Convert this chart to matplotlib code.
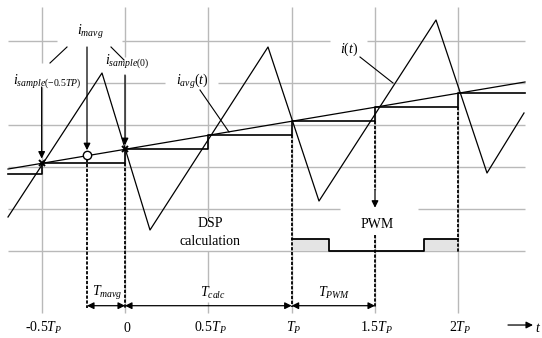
import numpy as np
import matplotlib
matplotlib.use("Agg")
import matplotlib.pyplot as plt

# ---------------- data (time in units of T_P, current in grid units) -------------
wave_time = [-0.702, -0.138, 0.150, 0.858, 1.164, 1.866, 2.172, 2.394]
wave_value = [0.81, 4.238, 0.50, 4.857, 1.19, 5.50, 1.857, 3.286]

avg_time = [-0.702, 2.40]
avg_value = [1.952, 4.024]

stair_time = [-0.702, -0.5, 0.0, 0.5, 1.0, 1.5, 2.0, 2.40]
stair_value = [1.83, 2.095, 2.43, 2.76, 3.095, 3.43, 3.76, 3.76]

sample_mark_time = [-0.5, 0.0]
sample_mark_value = [2.095, 2.43]
mavg_time = [-0.228]
mavg_value = [2.286]

pwm_time = [1.0, 1.224, 1.224, 1.794, 1.794, 2.0]
pwm_level = [0.286, 0.286, 0.0, 0.0, 0.286, 0.286]

tick_pos = [-0.5, 0.0, 0.5, 1.0, 1.5, 2.0]
tick_labels = ["-0.5$T_P$", "0", "0.5$T_P$", "$T_P$", "1.5$T_P$", "2$T_P$"]

# ---------------- style ----------------
plt.rcParams["font.family"] = ["Liberation Serif", "DejaVu Serif"]
plt.rcParams["mathtext.fontset"] = "custom"
plt.rcParams["mathtext.rm"] = "Liberation Serif"
plt.rcParams["mathtext.it"] = "Liberation Serif:italic"
plt.rcParams["mathtext.bf"] = "Liberation Serif:bold"

FS = 10
GRID = "#b9b9b9"
fig = plt.figure(figsize=(5.42, 3.38), dpi=100)
ax = fig.add_axes([0, 0, 1, 1])
ax.axis("off")
ax.set_xlim(-0.75, 2.502)
ax.set_ylim(-2.071, 5.976)

# ---------------- grid with gaps ----------------
hsegs = {5: [(-0.702, -0.408), (-0.018, 1.23), (1.452, 2.40)],
         4: [(-0.228, 0.24), (0.558, 2.40)],
         3: [(-0.702, 2.40)],
         2: [(-0.702, 2.40)],
         1: [(-0.702, 1.29), (1.758, 2.40)],
         0: [(-0.702, 2.40)]}
for lev, segs in hsegs.items():
    for a, b in segs:
        ax.plot([a, b], [lev, lev], color=GRID, lw=1.0, zorder=1, solid_capstyle="butt")

vsegs = {-0.5: [(5.81, 4.476), (3.905, -1.476)],
         0.0: [(5.81, 4.62), (4.19, -1.476)],
         0.5: [(5.81, 0.81), (0.0, -0.83), (-1.22, -1.476)],
         1.0: [(5.81, -1.476)],
         1.5: [(5.81, 1.45), (0.38, -1.476)],
         2.0: [(5.81, -1.476)]}
for xv, segs in vsegs.items():
    for a, b in segs:
        ax.plot([xv, xv], [a, b], color=GRID, lw=1.0, zorder=1, solid_capstyle="butt")

# ---------------- PWM ----------------
ax.fill_between(pwm_time, 0, pwm_level, color="#e4e4e4", zorder=2, lw=0)
ax.plot(pwm_time, pwm_level, color="k", lw=1.3, zorder=4)

# ---------------- waveforms ----------------
ax.plot(wave_time, wave_value, color="k", lw=0.9, zorder=4)
ax.plot(avg_time, avg_value, color="k", lw=0.9, zorder=4)
ax.plot(stair_time, stair_value, color="k", lw=1.2, drawstyle="steps-post", zorder=4)

# dashed verticals
dash = dict(color="k", lw=1.3, ls=(0, (1.8, 0.9)), zorder=3)
ax.plot([mavg_time[0]] * 2, [2.19, -1.36], **dash)
ax.plot([0.0, 0.0], [2.095, -1.36], **dash)
ax.plot([1.0, 1.0], [2.76, -1.33], **dash)
ax.plot([1.5, 1.5], [3.095, 1.45], **dash)
ax.plot([1.5, 1.5], [0.38, -1.33], **dash)
ax.plot([2.0, 2.0], [3.43, -0.02], **dash)

# markers
ax.plot(sample_mark_time, sample_mark_value, ls="none", marker="x", ms=5, mew=1.4,
        color="k", zorder=6)
ax.plot(mavg_time, mavg_value, ls="none", marker="o", ms=6, mew=1.0,
        mfc="white", mec="k", zorder=6)

# ---------------- arrows & leaders ----------------
def arrow(x0, y0, x1, y1, style="-|>", lw=0.9):
    ax.annotate("", xy=(x1, y1), xytext=(x0, y0),
                arrowprops=dict(arrowstyle=style, color="k", lw=lw,
                                shrinkA=0, shrinkB=0, mutation_scale=10),
                zorder=5)

arrow(-0.5, 3.905, -0.5, 2.20)
arrow(mavg_time[0], 4.857, mavg_time[0], 2.40)
arrow(0.0, 4.19, 0.0, 2.52)
arrow(1.5, 1.45, 1.5, 1.03)

ax.plot([-0.348, -0.45], [4.857, 4.476], color="k", lw=0.8)
ax.plot([-0.084, -0.006], [4.857, 4.548], color="k", lw=0.8)
ax.plot([0.45, 0.624], [3.833, 2.833], color="k", lw=0.8)
ax.plot([1.41, 1.608], [4.619, 4.0], color="k", lw=0.8)

yb = -1.302
arrow(mavg_time[0], yb, 0.0, yb, style="<|-|>")
arrow(0.0, yb, 1.0, yb, style="<|-|>")
arrow(1.0, yb, 1.5, yb, style="<|-|>")

arrow(2.298, -1.762, 2.448, -1.762)

# ---------------- text ----------------
ax.text(-0.288, 5.15, r"$i_{\mathit{mavg}}$", fontsize=FS, va="baseline", ha="left")
ax.text(-0.672, 3.99, r"$i_{\mathit{sample(}\mathit{-}\mathit{0.5TP)}}$", fontsize=FS,
        va="baseline", ha="left")
ax.text(-0.12, 4.47, r"$i_{\mathit{sample(0)}}$", fontsize=FS, va="baseline", ha="left")
ax.text(0.306, 3.95, r"$i_{\mathit{avg}}\mathit{(t)}$", fontsize=FS, va="baseline", ha="left")
ax.text(1.29, 4.71, r"$\mathit{i(t)}$", fontsize=FS, va="baseline", ha="left")

ax.text(0.51, 0.57, "DSP", fontsize=FS, ha="center", va="baseline")
ax.text(0.51, 0.14, "calculation", fontsize=FS, ha="center", va="baseline")
ax.text(1.51, 0.545, "PWM", fontsize=FS, ha="center", va="baseline")

ax.text(-0.198, -1.07, r"$T_{mavg}$", fontsize=FS, ha="left", va="baseline")
ax.text(0.45, -1.10, r"$T_{calc}$", fontsize=FS, ha="left", va="baseline")
ax.text(1.158, -1.10, r"$T_{PWM}$", fontsize=FS, ha="left", va="baseline")

for p, lab in zip(tick_pos, tick_labels):
    ax.text(p + 0.01, -1.93, lab, fontsize=FS, ha="center", va="baseline")
ax.text(2.462, -1.93, r"$t$", fontsize=FS, ha="left", va="baseline")

fig.savefig("out.png", dpi=100)
